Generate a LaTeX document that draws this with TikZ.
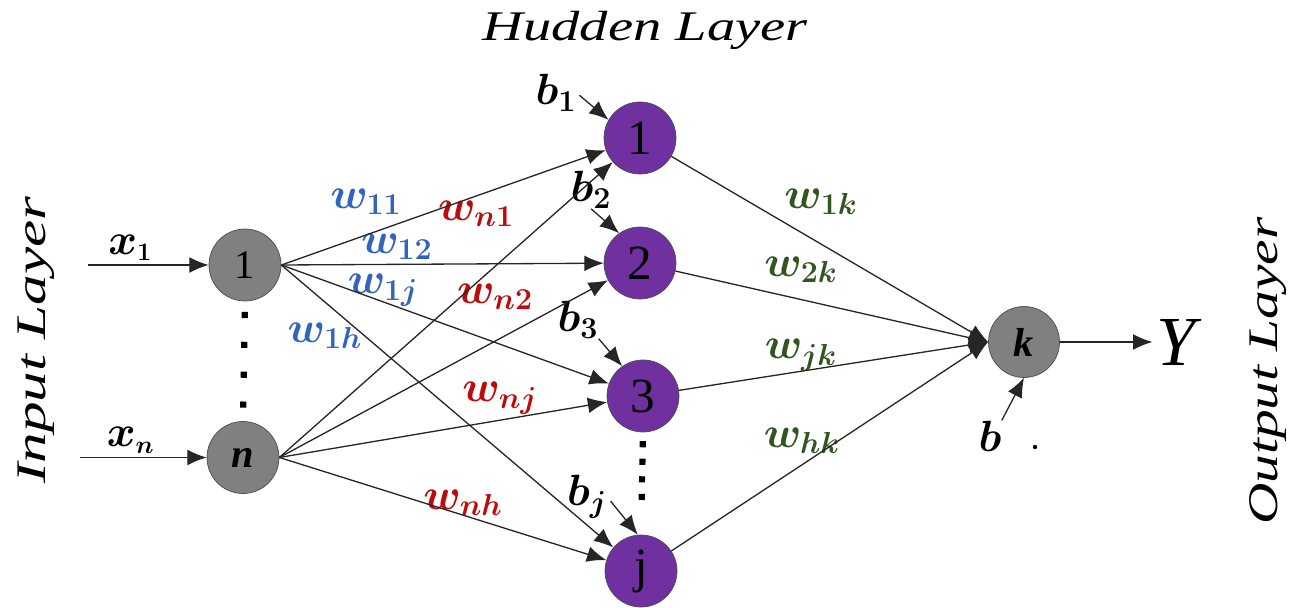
\documentclass[tikz,border=0pt]{standalone}
\usepackage{fontspec}
\setmainfont{Liberation Serif}
\usepackage{bm}
\usepackage{graphicx}
\usetikzlibrary{arrows.meta}

\definecolor{nodegray}{RGB}{128,128,128}
\definecolor{hidfill}{RGB}{112,48,160}
\definecolor{wblue}{RGB}{50,100,190}
\definecolor{wred}{RGB}{190,10,10}
\definecolor{wgreen}{RGB}{50,85,32}

\tikzstyle{input} = [circle, minimum size=1.44cm, inner sep=0pt, draw=black!70, fill=nodegray, font=\fontsize{23}{23}\selectfont]
\tikzstyle{hidden} = [circle, minimum size=1.44cm, inner sep=0pt, draw=black!70, fill=hidfill, font=\fontsize{28}{28}\selectfont]
\tikzstyle{output} = [circle, minimum size=1.42cm, inner sep=0pt, draw=black!70, fill=nodegray, font=\fontsize{23}{23}\selectfont]
\tikzstyle{weight} = [inner sep=0pt, font=\fontsize{24}{24}\selectfont]
\tikzstyle{signal} = [inner sep=2pt, font=\fontsize{31}{31}\selectfont]
\tikzstyle{layer} = [inner sep=0pt, font=\fontsize{24}{24}\selectfont\itshape]
\tikzstyle{arrow} = [draw=black!85, line width=0.75pt, -{Latex[length=11pt, width=9pt]}]
\tikzstyle{vdots} = [line width=3.5pt, dash pattern=on 3.5pt off 13.5pt]

\newcommand{\stretched}[2]{\scalebox{#1}[1]{#2}}

\begin{document}
\begin{tikzpicture}[node distance = 2.5cm]
\useasboundingbox (0,0) rectangle (26.12,-12.16);

% ------------------------- nodes -------------------------

% ----- layer titles
\node(hlayer)[layer] at (12.9,-0.6) {\stretched{1.34}{Hudden Layer}};
\node(ilayer)[layer, rotate=90] at (0.72,-6.8) {\stretched{1.45}{Input Layer}};
\node(olayer)[layer, rotate=90] at (25.36,-7.42) {\stretched{1.36}{Output Layer}};

% ----- input layer
\node(in1)[input] at (4.9,-5.3) {1};
\node(inn)[input, below of=in1, yshift=-1.35cm, xshift=-0.04cm] {\textbf{\textit{n}}};
\coordinate[left of=in1, xshift=-0.64cm] (x1);
\coordinate[left of=inn, xshift=-0.76cm] (xn);

% ----- hidden layer
\node(h1)[hidden] at (12.8,-2.76) {1};
\node(h2)[hidden, below of=h1] {2};
\node(h3)[hidden, below of=h2, yshift=-0.16cm, xshift=0.06cm] {3};
\node(hj)[hidden, below of=h3, yshift=-1cm, xshift=-0.04cm] {j};

% ----- biases
\node(b1)[weight] at (11.12,-1.86) {$\bm{b_1}$};
\node(b2)[weight] at (11.82,-3.8) {$\bm{b_2}$};
\node(b3)[weight] at (11.56,-6.4) {$\bm{b_3}$};
\node(bj)[weight] at (11.74,-9.94) {$\bm{b_j}$};

% ----- output layer
\node(k)[output] at (20.48,-6.84) {\textbf{\textit{k}}};
\node(y)[signal, right of=k, xshift=0.6cm, font=\fontsize{40}{40}\selectfont] {\textit{Y}};
\node(b)[weight] at (19.8,-8.72) {$\bm{b}$};
\node(bdot)[circle, fill=black, inner sep=0pt, minimum size=2.5pt] at (20.7,-8.94) {};

% ----- weights input -> hidden
\node(w11)[weight, text=wblue] at (7.32,-4.04) {$\bm{w_{11}}$};
\node(w12)[weight, text=wblue] at (7.94,-4.94) {$\bm{w_{12}}$};
\node(w1j)[weight, text=wblue] at (7.66,-5.8) {$\bm{w_{1j}}$};
\node(w1h)[weight, text=wblue] at (6.5,-6.72) {$\bm{w_{1h}}$};
\node(wn1)[weight, text=wred] at (9.52,-4.28) {$\bm{w_{n1}}$};
\node(wn2)[weight, text=wred] at (9.9,-5.94) {$\bm{w_{n2}}$};
\node(wnj)[weight, text=wred] at (10.0,-7.96) {$\bm{w_{nj}}$};
\node(wnh)[weight, text=wred] at (9.26,-10.06) {$\bm{w_{nh}}$};

% ----- weights hidden -> output
\node(w1k)[weight, text=wgreen] at (16.42,-4.04) {$\bm{w_{1k}}$};
\node(w2k)[weight, text=wgreen] at (16.02,-5.4) {$\bm{w_{2k}}$};
\node(wjk)[weight, text=wgreen] at (16.02,-7.1) {$\bm{w_{jk}}$};
\node(whk)[weight, text=wgreen] at (16.04,-8.82) {$\bm{w_{hk}}$};

% ------------------------- connections -------------------------
\draw[arrow](x1)--node[signal, above, pos=0.35]{$\bm{x}_{\scriptscriptstyle\bm{1}}$}(in1);
\draw[arrow](xn)--node[signal, above, pos=0.4]{$\bm{x}_{\scriptscriptstyle\bm{n}}$}(inn);

\draw[arrow](in1.east)--(h1);
\draw[arrow](in1.east)--(h2);
\draw[arrow](in1.east)--(h3);
\draw[arrow](in1.east)--(hj);
\draw[arrow](inn.east)--(h1);
\draw[arrow](inn.east)--(h2);
\draw[arrow](inn.east)--(h3);
\draw[arrow](inn.east)--(hj);

\draw[arrow](h1)--(k.west);
\draw[arrow](h2)--(k.west);
\draw[arrow](h3)--(k.west);
\draw[arrow](hj)--(k.west);
\draw[arrow](k)--(y);

\draw[arrow, shorten <=2pt](b1.east)--(h1.150);
\draw[arrow](b2.south)--(h2.125);
\draw[arrow](b3.south east)--(h3.125);
\draw[arrow, shorten <=3pt](bj.east)--(hj.95);
\draw[arrow](b.north east)--(k.south);

% dotted gaps between the numbered units
\draw[vdots, shorten <=6pt](in1.south)--(inn.north);
\draw[vdots, dash pattern=on 3.5pt off 6.5pt, shorten <=5pt, shorten >=14pt](h3.south)--(hj.north);

\end{tikzpicture}
\end{document}
